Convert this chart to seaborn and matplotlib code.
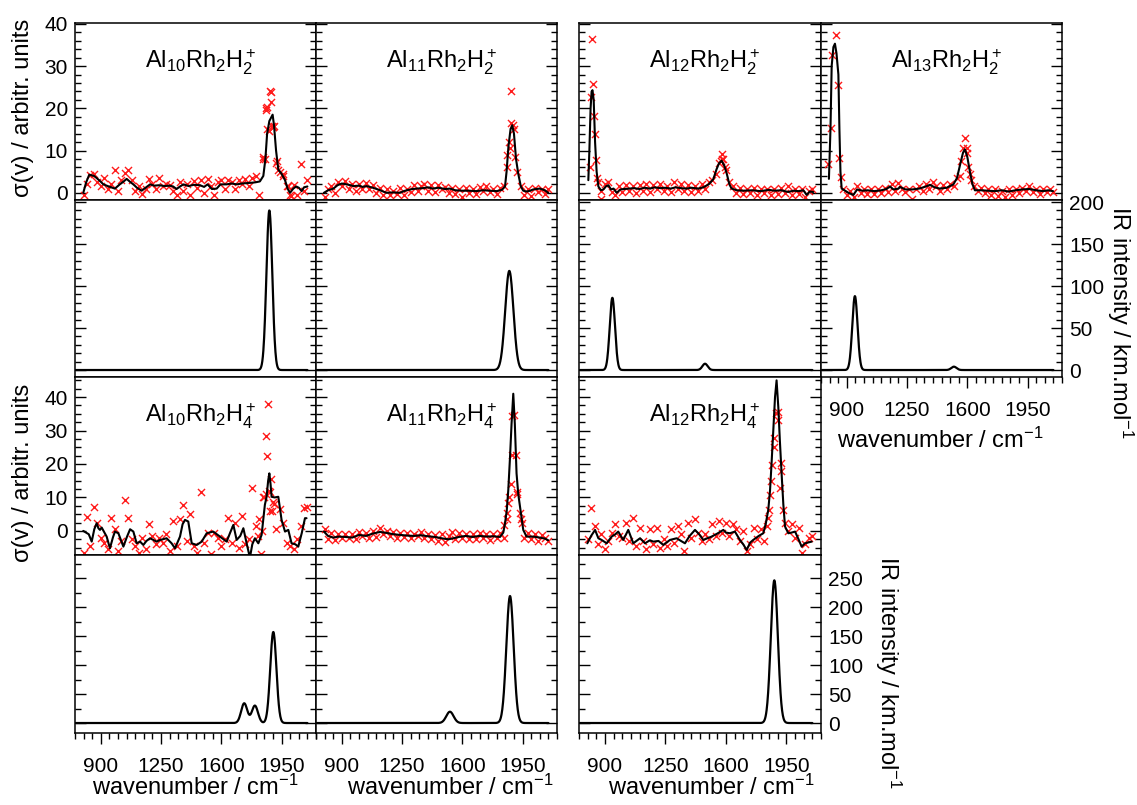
import numpy as np
import seaborn as sns
import matplotlib.pyplot as plt
from matplotlib.ticker import FixedLocator, MultipleLocator

sns.set_style("ticks")
plt.rcParams['font.family'] = ['Liberation Sans', 'DejaVu Sans']
plt.rcParams['mathtext.fontset'] = 'custom'
plt.rcParams['mathtext.rm'] = 'Liberation Sans'
plt.rcParams['mathtext.it'] = 'Liberation Sans:italic'
plt.rcParams['mathtext.bf'] = 'Liberation Sans:bold'
for key in ['text.color', 'axes.labelcolor', 'xtick.color', 'ytick.color', 'axes.edgecolor']:
    plt.rcParams[key] = 'black'

# ---------------- data ----------------
# wavenumber grid of the measured points (cm-1)
grid_x = np.arange(800, 2101, 20)
nan = np.nan

# Al10Rh2H2+ experiment
a_line = [(798, 0.0), (815, 2.5), (833, 4.3), (860, 4.0), (876, 3.5), (900, 2.6), (915, 2.0),
          (940, 1.6), (960, 1.3), (982, 1.0), (1010, 2.0), (1030, 2.6), (1050, 3.3), (1070, 2.6),
          (1089, 2.0), (1110, 1.2), (1137, 0.5), (1160, 1.2), (1186, 2.0), (1210, 1.7), (1240, 1.8),
          (1270, 1.6), (1300, 1.7), (1320, 1.5), (1340, 0.9), (1360, 1.5), (1380, 2.0), (1410, 1.6),
          (1440, 1.9), (1476, 1.8), (1500, 1.4), (1520, 2.0), (1545, 0.9), (1573, 1.0), (1595, 2.0),
          (1630, 2.0), (1660, 2.2), (1690, 2.0), (1720, 2.2), (1750, 2.3), (1780, 2.4), (1800, 2.5),
          (1824, 2.7), (1844, 4.0), (1856, 8.0), (1866, 14.0), (1879, 17.0), (1898, 18.5), (1906, 16.0),
          (1918, 10.0), (1931, 5.5), (1950, 4.5), (1970, 3.0), (1985, 1.0), (1999, 0.0), (2018, 1.0),
          (2035, 1.5), (2050, 1.2), (2067, 0.4), (2080, 1.3), (2100, 1.5)]
a_pts = [-0.5, 2.0, 4.3, 4.5, 2.5, 1.5, 3.5, 1.0, 2.0, 5.3, 0.5,
         3.0, 4.8, 5.5, 3.0, 0.4, 1.5, -0.3, 0.8, 3.2, 2.0, 1.0,
         3.5, 1.5, 2.0, 1.8, 0.5, -0.4, 2.5, 0.5, 2.2, -0.5, 2.8,
         1.2, 3.0, 0.0, 3.2, 1.5, -0.5, 2.5, 3.0, 1.0, 3.0, 2.5,
         1.0, 3.0, 2.0, 3.2, 1.5, 3.5, 4.0, -0.5, 8.0, 20.0, 24.0,
         15.5, 7.0, 5.0, 4.5, 1.5, -0.5, 1.8, -0.5, 6.8, 0.5, 3.0]
a_extra = [(1844, 8.4), (1852, 8.0), (1858, 19.5), (1863, 20.3), (1868, 15.0), (1878, 14.6),
           (1886, 21.5), (1888, 23.8), (1892, 15.7), (1900, 15.5), (1906, 15.7), (1921, 7.6),
           (1930, 5.5), (1960, 4.0), (1990, 1.5), (2005, -0.8)]

# Al11Rh2H2+ experiment
b_line = [(796, 0.0), (820, 0.6), (851, 1.0), (875, 1.8), (900, 2.2), (928, 2.0), (950, 1.8),
          (967, 1.6), (1000, 1.7), (1020, 1.4), (1044, 1.6), (1080, 1.2), (1110, 0.8), (1141, 0.3),
          (1160, 0.0), (1200, 0.1), (1238, 0.0), (1260, 0.4), (1277, 0.6), (1310, 0.9), (1335, 1.0),
          (1370, 1.1), (1400, 1.3), (1430, 1.0), (1460, 1.2), (1500, 0.9), (1528, 1.0), (1560, 0.6),
          (1600, 0.5), (1640, 0.5), (1680, 0.4), (1720, 0.6), (1760, 0.5), (1800, 0.4), (1830, 0.7),
          (1848, 1.5), (1857, 5.0), (1868, 11.0), (1880, 15.0), (1890, 16.0), (1900, 14.0),
          (1912, 8.0), (1925, 4.5), (1940, 1.5), (1954, 0.5), (1975, 0.3), (1993, 0.5), (2012, 0.8),
          (2050, 1.0), (2080, 0.6), (2099, 0.0)]
b_pts = [-1.0, 1.0, 1.5, 0.0, 2.5, 1.5, 2.8, 1.0, 2.2, 0.5, 2.0,
         1.0, 2.3, 0.8, 1.8, 0.0, 1.2, -0.5, 0.8, -0.6, 0.5, -0.2,
         1.2, -0.4, 1.0, 0.2, 1.8, 0.5, 1.5, 2.0, 0.5, 1.8, 0.3,
         1.9, 0.8, 1.4, 0.0, 1.2, -0.3, 1.0, -1.0, 1.2, 0.0, 1.0,
         -0.2, 1.3, 0.5, 1.5, 0.2, 1.0, -0.2, 1.2, 1.5, 9.0, 16.5,
         15.0, 5.0, 1.5, -0.5, 1.0, -0.8, 1.2, 0.3, 1.0, -0.3, 0.8]
b_extra = [(1860, 6.0), (1870, 12.0), (1875, 10.5), (1885, 24.2), (1895, 16.0), (1905, 8.5)]

# Al12Rh2H2+ experiment
c_line = [(804, 3.0), (810, 10.0), (817, 20.0), (823, 24.0), (828, 24.3), (835, 22.0), (843, 12.0),
          (852, 5.0), (862, 1.5), (877, 0.6), (891, 0.8), (905, 1.5), (920, 1.8), (935, 0.8),
          (950, 1.0), (968, 0.0), (990, 0.8), (1010, 0.9), (1040, 1.0), (1070, 1.1), (1100, 0.9),
          (1130, 1.2), (1160, 1.0), (1190, 1.3), (1220, 1.1), (1250, 1.2), (1280, 1.0), (1310, 1.3),
          (1340, 1.1), (1370, 1.0), (1400, 1.2), (1440, 1.0), (1469, 1.3), (1500, 2.0), (1527, 3.2),
          (1545, 5.5), (1560, 7.0), (1575, 7.6), (1590, 6.5), (1605, 4.5), (1620, 2.0), (1633, 1.0),
          (1662, 0.6), (1700, 0.5), (1750, 0.6), (1800, 0.4), (1850, 0.7), (1880, 0.5), (1920, 0.6),
          (1960, 0.2), (1990, 0.5), (2020, 0.4), (2048, 0.6), (2067, -0.5), (2085, 0.3), (2105, 0.2)]
c_pts = [nan, nan, 14.0, 2.5, 0.5, 2.0, 2.5, 0.3, -0.5, 1.5, 0.2,
         1.8, 0.5, 1.5, 0.0, 1.8, 0.5, 2.0, 0.3, 1.8, 1.0, 2.0,
         0.5, 1.6, 0.2, 2.5, 0.8, 2.2, 0.5, 1.8, 0.3, 1.5, 0.5,
         2.0, 1.0, 2.5, 3.0, 4.5, 7.0, 8.0, 5.5, 2.5, 1.5, 0.0,
         1.2, -0.3, 1.0, 0.0, 1.2, -0.4, 1.0, 0.0, 0.8, -0.5, 1.0,
         -0.3, 1.2, 0.0, 1.5, -0.5, 0.8, -0.3, 1.0, -1.0, 0.5, 0.8]
c_extra = [(812, 6.0), (822, 22.7), (827, 36.5), (831, 25.7), (836, 18.1), (847, 7.8), (855, 3.5),
           (875, -1.5), (1570, 7.5), (1575, 9.3), (1585, 8.0), (1595, 6.0)]

# Al13Rh2H2+ experiment
d_line = [(796, 3.3), (805, 15.0), (812, 30.0), (822, 34.5), (831, 35.3), (840, 33.0), (851, 28.0),
          (857, 15.0), (863, 5.0), (870, 1.0), (890, 0.5), (910, 0.0), (938, -0.5), (960, 0.8),
          (990, 0.5), (1020, 0.6), (1060, 0.4), (1100, 0.6), (1130, 0.9), (1151, 1.5), (1170, 0.8),
          (1200, 1.0), (1209, 1.4), (1240, 0.8), (1280, 0.8), (1320, 1.0), (1360, 1.5), (1383, 1.9),
          (1410, 1.3), (1440, 1.0), (1480, 1.2), (1519, 2.0), (1540, 3.5), (1560, 7.0), (1575, 9.5),
          (1586, 10.3), (1600, 8.5), (1615, 5.0), (1630, 2.0), (1644, 0.6), (1680, 0.6), (1720, 0.5),
          (1760, 0.4), (1800, 0.6), (1840, 0.3), (1880, 0.6), (1920, 0.8), (1960, 0.9), (2000, 0.6),
          (2040, 0.4), (2070, 0.6), (2098, 0.4)]
d_pts = [nan, nan, nan, nan, 1.0, -0.5, 0.5, -1.0, 1.5, 0.0, 1.0,
         -0.3, 0.8, -0.2, 1.0, 0.0, 1.2, 0.3, 2.0, 0.5, 2.3, 0.8,
         0.2, 1.0, -1.5, 0.8, 1.5, 0.5, 2.2, 1.0, 2.5, 1.5, 0.5,
         1.8, 0.8, 2.0, 1.5, 3.5, nan, nan, 9.5, 3.0, 1.5, 0.5,
         1.2, 0.0, 0.8, -0.5, 1.0, -0.8, 0.5, -1.0, 0.8, -0.5, 1.0,
         0.0, 1.2, 0.5, 1.5, 0.3, 1.0, -0.2, 0.8, 0.2, 1.0, 0.3]
d_extra = [(792, 6.8), (808, 15.3), (816, 32.6), (835, 37.3), (851, 25.6), (857, 8.2), (867, 3.7),
           (1555, 4.0), (1566, 7.6), (1576, 10.7), (1586, 13.0), (1596, 10.5), (1605, 6.0),
           (1615, 4.5)]

# Al10Rh2H4+ experiment
e_line = [(798, 0.0), (830, -1.0), (847, -3.2), (862, 0.5), (876, 2.3), (886, 0.8), (895, 0.3),
          (905, 1.0), (934, -1.7), (953, -5.2), (970, -2.0), (982, -0.2), (1002, -0.7), (1031, -4.7),
          (1050, -2.0), (1070, 0.5), (1089, -0.2), (1108, -3.7), (1128, -3.2), (1147, -4.2),
          (1165, -3.0), (1186, -2.2), (1224, -3.2), (1244, -2.7), (1282, -2.2), (1311, -3.7),
          (1331, -5.2), (1345, -3.5), (1360, -1.7), (1375, 2.0), (1389, 3.3), (1408, 2.8),
          (1428, -3.7), (1457, -4.2), (1486, -3.2), (1515, -0.7), (1553, -0.2), (1592, -1.7),
          (1631, -3.2), (1650, -0.7), (1670, 1.8), (1689, -2.7), (1710, -1.5), (1728, 0.8),
          (1747, -3.7), (1766, -8.0), (1780, -4.0), (1795, -2.2), (1815, -3.7), (1834, -1.2),
          (1853, 7.8), (1863, 10.2), (1872, 15.0), (1879, 17.2), (1886, 14.0), (1892, 10.2),
          (1910, 10.0), (1931, 10.2), (1950, 3.3), (1970, -0.2), (1989, 0.3), (2008, -3.7),
          (2030, -4.0), (2047, -4.7), (2067, -0.7), (2086, 3.8), (2095, 3.8)]
e_pts = [-6.5, 4.2, -4.5, 7.0, 2.5, -2.0, -3.5, -5.5, 4.0, 0.5, -6.0,
         -3.0, 9.2, 3.8, -2.5, -4.5, -6.5, -2.0, -5.5, 2.2, -1.5, -4.0,
         -2.0, -3.5, -1.0, -6.0, 3.0, -4.5, 3.5, 7.8, -3.0, 5.0, -4.5,
         -6.5, 11.5, -3.5, -0.5, -7.0, -0.5, -2.0, -4.5, -2.5, 4.0, -3.5,
         2.5, -5.0, 4.5, -4.0, -2.5, 12.8, 1.5, 3.5, 10.0, 11.0, 6.0,
         8.5, 0.5, 6.5, 2.5, -3.5, -4.5, -5.5, -2.5, 1.5, 6.8, 7.0]
e_extra = [(1812, -1.5), (1830, -7.0), (1836, 0.0), (1850, 10.0), (1860, 28.5), (1866, 22.5),
           (1872, 38.0), (1876, 12.0), (1884, 11.5), (1890, 15.5), (1895, 6.0), (1905, 8.0)]

# Al11Rh2H4+ experiment
f_line = [(796, -0.2), (820, -1.5), (850, -2.0), (880, -1.7), (920, -1.8), (960, -2.0), (1000, -1.2),
          (1040, -1.5), (1080, -0.8), (1122, -0.3), (1160, -0.6), (1200, -1.0), (1240, -1.2),
          (1280, -1.4), (1320, -1.5), (1360, -1.3), (1400, -1.6), (1440, -1.8), (1490, -2.3),
          (1520, -2.5), (1548, -2.2), (1580, -1.8), (1620, -1.5), (1660, -1.8), (1700, -1.5),
          (1740, -1.7), (1780, -1.6), (1819, -1.8), (1838, -0.5), (1848, 2.3), (1858, 6.0),
          (1867, 12.2), (1877, 22.0), (1886, 32.0), (1896, 41.0), (1905, 32.0), (1915, 17.2),
          (1925, 11.0), (1935, 7.3), (1954, 0.3), (1973, -1.7), (2012, -1.7), (2050, -2.0),
          (2080, -2.3), (2099, -2.8)]
f_pts = [0.5, -2.5, -0.5, -2.8, -1.0, -2.2, -0.8, -2.0, -1.0, -2.5, -0.3,
         -1.5, -0.5, -2.0, 0.0, -1.8, 0.8, -1.0, 0.0, -1.5, -0.2, -2.0,
         -0.5, -1.8, -0.6, -2.2, -0.8, -1.5, -0.2, -2.0, -0.8, -2.5, -1.2,
         -3.0, -1.0, -3.2, -1.5, -0.3, -2.5, -0.5, -2.0, -0.8, -2.5, -1.0,
         -2.3, -0.7, -2.0, -1.0, -2.8, -0.8, -2.2, -0.5, -2.0, 3.5, 14.0,
         34.5, 11.0, 3.5, -2.0, -0.5, -2.5, -0.8, -3.0, -1.2, -2.0, -3.0]
f_extra = [(1842, 1.8), (1857, 5.3), (1867, 8.3), (1873, 10.2), (1886, 34.4), (1889, 22.7),
           (1912, 22.7), (1919, 11.7), (1935, 5.3), (1945, 2.5)]

# Al12Rh2H4+ experiment
g_line = [(798, -3.7), (820, -1.5), (843, 0.3), (862, -2.2), (881, -2.7), (910, -3.7), (939, -1.7),
          (960, -1.0), (977, -0.2), (1006, -2.7), (1035, 0.3), (1064, -3.7), (1103, -2.2),
          (1132, -3.7), (1160, -2.8), (1180, -3.2), (1210, -3.0), (1238, -4.2), (1276, -2.7),
          (1315, -2.2), (1340, -3.0), (1363, -3.7), (1390, -1.5), (1421, 0.3), (1445, -1.0),
          (1469, -2.7), (1517, -1.7), (1550, -0.8), (1585, 0.3), (1600, -0.5), (1623, -0.7),
          (1652, -0.2), (1681, -2.7), (1700, -4.0), (1720, -5.7), (1740, -3.5), (1758, -2.7),
          (1790, -1.5), (1816, -0.7), (1830, 2.0), (1845, 6.3), (1855, 12.0), (1864, 20.2),
          (1875, 31.0), (1884, 40.0), (1893, 45.0), (1903, 37.0), (1912, 27.0), (1922, 17.2),
          (1932, 8.0), (1942, 1.3), (1961, -0.7), (1980, -0.5), (2000, -0.2), (2020, -2.5),
          (2038, -4.7), (2057, -3.7), (2096, -3.2)]
g_pts = [-2.5, 6.8, 1.5, -4.0, -1.0, -5.5, -3.0, -0.5, 2.0, -1.5, -2.0,
         2.5, -3.0, 4.0, -4.5, 1.0, -3.0, -5.5, 0.5, -4.0, 1.0, -5.0,
         -2.5, -4.5, 0.5, -3.5, 1.5, -1.0, -6.0, 2.5, -2.0, 3.5, -0.5,
         -3.0, -1.0, -2.5, 2.0, -1.5, 3.0, -0.5, 2.5, -1.5, 2.0, 0.5,
         -3.0, 0.0, -6.0, -4.0, 1.0, -2.5, 0.5, -3.0, 1.5, 15.0, 25.0,
         35.5, 18.0, 2.5, 0.0, 2.0, -2.0, 1.0, -6.5, -4.0, -2.0, -1.5]
g_extra = [(1845, 3.8), (1851, 6.3), (1855, 10.7), (1864, 19.7), (1878, 27.7), (1890, 35.1),
           (1903, 33.0), (1913, 12.9), (1917, 20.4), (1932, 6.3)]

# calculated spectra: band positions (cm-1), intensities (km/mol), gaussian fwhm (cm-1)
ta_pos, ta_int, ta_fwhm = [1879], [190], 40
tb_pos, tb_int, tb_fwhm = [1873], [118], 56
tc_pos, tc_int, tc_fwhm = [943, 1479], [86, 7.5], 36
td_pos, td_int, td_fwhm = [947, 1522], [88, 4], 36
te_pos, te_int, te_fwhm = [1733, 1795, 1902], [34, 30, 157], 42
tf_pos, tf_int, tf_fwhm = [1528, 1877], [19.5, 219], 50
tg_pos, tg_int, tg_fwhm = [1880], [246], 48

titles = [r"Al$_{10}$Rh$_2$H$_2^+$", r"Al$_{11}$Rh$_2$H$_2^+$", r"Al$_{12}$Rh$_2$H$_2^+$",
          r"Al$_{13}$Rh$_2$H$_2^+$", r"Al$_{10}$Rh$_2$H$_4^+$", r"Al$_{11}$Rh$_2$H$_4^+$",
          r"Al$_{12}$Rh$_2$H$_4^+$"]
x_ticks = [900, 1250, 1600, 1950]

# ---------------- layout (pixels) ----------------
W, H = 1137, 805
cols = [(75, 316), (316, 557), (579, 821), (821, 1062)]
rows = [(23, 200), (200, 377), (377, 555), (555, 733)]

fig = plt.figure(figsize=(W / 100, H / 100), dpi=100)


def make_ax(c, r):
    x0, x1 = cols[c]
    y0, y1 = rows[r]
    return fig.add_axes([x0 / W, 1 - y1 / H, (x1 - x0) / W, (y1 - y0) / H])


def style(ax, ylim, ymaj, ymin, xlab=False, left=False, right=False):
    ax.set_xlim(750, 2150)
    ax.set_ylim(*ylim)
    ax.xaxis.set_major_locator(FixedLocator(x_ticks))
    ax.xaxis.set_minor_locator(MultipleLocator(50))
    ax.yaxis.set_major_locator(MultipleLocator(ymaj))
    ax.yaxis.set_minor_locator(MultipleLocator(ymin))
    ax.tick_params(axis='x', which='both', direction='out', top=False, bottom=xlab,
                   labelbottom=xlab, labelsize=15, width=1, color='black', labelcolor='black')
    ax.tick_params(axis='x', which='major', length=8, pad=9)
    ax.tick_params(axis='x', which='minor', length=4)
    ax.tick_params(axis='y', which='both', direction='in', left=True, right=True,
                   labelleft=left, labelright=right, labelsize=15, width=1, color='black',
                   labelcolor='black', pad=5)
    ax.tick_params(axis='y', which='major', length=8)
    ax.tick_params(axis='y', which='minor', length=4)
    for s in ax.spines.values():
        s.set_visible(True)
        s.set_linewidth(1.1)
        s.set_color('black')
    ax.set_xlabel('')
    ax.set_ylabel('')


def draw_exp(ax, line, pts, extra, title, ylim, ymin, left):
    sns.scatterplot(x=grid_x, y=pts, marker='x', color='#ff1a1a', s=26, linewidth=1.0, ax=ax, zorder=2)
    ex = np.array(extra)
    sns.scatterplot(x=ex[:, 0], y=ex[:, 1], marker='x', color='#ff1a1a', s=26, linewidth=1.0, ax=ax, zorder=2)
    ln = np.array(line)
    sns.lineplot(x=ln[:, 0], y=ln[:, 1], color='black', linewidth=1.5, ax=ax, zorder=3)
    ax.text(0.52, 0.78, title, transform=ax.transAxes, ha='center', va='center', fontsize=17)
    style(ax, ylim, 10, ymin, left=left)


def draw_calc(ax, pos, inten, fwhm, ylim, ymin, xlab, right):
    wn = np.linspace(755, 2100, 900)
    spec = np.zeros_like(wn)
    for c, h in zip(pos, inten):
        spec += h * np.exp(-4 * np.log(2) * (wn - c) ** 2 / fwhm ** 2)
    sns.lineplot(x=wn, y=spec, color='black', linewidth=1.6, ax=ax)
    style(ax, ylim, 50, ymin, xlab=xlab, right=right)


top_ylim, low_ylim = (-1.7, 40.2), (-7.2, 46)
calc1_ylim, calc2_ylim = (-8.3, 202.4), (-17.2, 289.7)

# upper block: dihydrides
draw_exp(make_ax(0, 0), a_line, a_pts, a_extra, titles[0], top_ylim, 2, True)
draw_exp(make_ax(1, 0), b_line, b_pts, b_extra, titles[1], top_ylim, 2, False)
draw_exp(make_ax(2, 0), c_line, c_pts, c_extra, titles[2], top_ylim, 2, False)
draw_exp(make_ax(3, 0), d_line, d_pts, d_extra, titles[3], top_ylim, 2, False)
draw_calc(make_ax(0, 1), ta_pos, ta_int, ta_fwhm, calc1_ylim, 10, False, False)
draw_calc(make_ax(1, 1), tb_pos, tb_int, tb_fwhm, calc1_ylim, 10, False, False)
draw_calc(make_ax(2, 1), tc_pos, tc_int, tc_fwhm, calc1_ylim, 10, False, False)
draw_calc(make_ax(3, 1), td_pos, td_int, td_fwhm, calc1_ylim, 10, True, True)

# lower block: tetrahydrides
draw_exp(make_ax(0, 2), e_line, e_pts, e_extra, titles[4], low_ylim, 2.5, True)
draw_exp(make_ax(1, 2), f_line, f_pts, f_extra, titles[5], low_ylim, 2.5, False)
draw_exp(make_ax(2, 2), g_line, g_pts, g_extra, titles[6], low_ylim, 2.5, False)
draw_calc(make_ax(0, 3), te_pos, te_int, te_fwhm, calc2_ylim, 25, True, False)
draw_calc(make_ax(1, 3), tf_pos, tf_int, tf_fwhm, calc2_ylim, 25, True, False)
draw_calc(make_ax(2, 3), tg_pos, tg_int, tg_fwhm, calc2_ylim, 25, True, True)

# axis titles
xlab = r"wavenumber / cm$^{-1}$"
ylab_exp = "σ(v) / arbitr. units"
ylab_calc = r"IR intensity / km.mol$^{-1}$"
for xc, yb in [(195, 795), (450, 795), (711, 795), (940, 448)]:
    fig.text(xc / W, 1 - yb / H, xlab, ha='center', va='baseline', fontsize=17)
for yc in [108, 473]:
    fig.text(23 / W, 1 - yc / H, ylab_exp, rotation=90, ha='center', va='center', fontsize=17)
fig.text(1120 / W, 1 - 322 / H, ylab_calc, rotation=270, ha='center', va='center', fontsize=17)
fig.text(888 / W, 1 - 672 / H, ylab_calc, rotation=270, ha='center', va='center', fontsize=17)

fig.savefig('out.png', dpi=100, facecolor='white')
